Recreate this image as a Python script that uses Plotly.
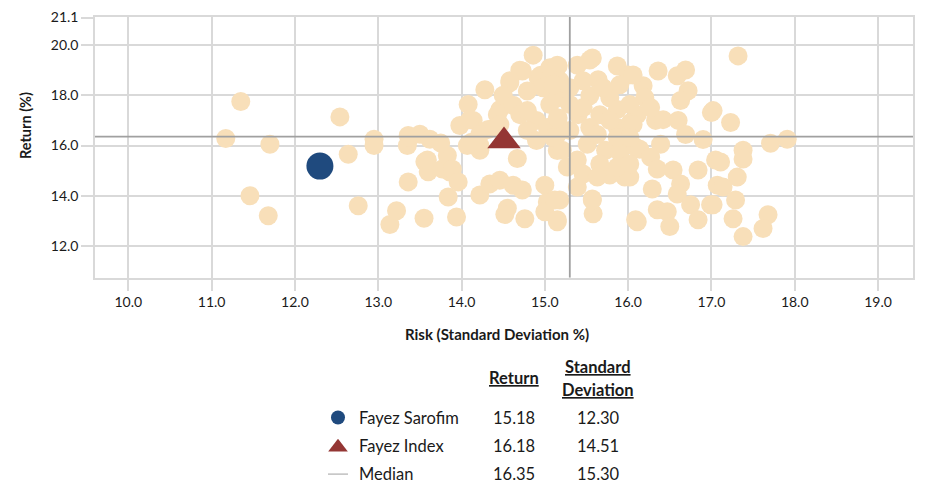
import plotly.graph_objects as go

# ---------------- data ----------------
peer_sd = [
    11.17, 11.35, 11.70, 11.46, 11.68, 12.54, 12.64, 12.76, 12.95, 12.95,
    13.14, 13.22, 13.36, 13.36, 13.35, 13.38, 13.50, 13.55, 13.62, 13.56,
    13.60, 13.59, 13.77, 13.86, 13.83, 13.89, 13.96, 13.84, 13.94, 13.98,
    14.08, 14.14, 14.12, 14.22, 14.28, 14.22, 14.34, 14.46, 14.62, 14.73,
    14.55, 14.52, 14.76, 14.67, 14.40, 14.46, 14.58, 14.70, 14.86, 15.00,
    15.03, 15.00, 15.18, 15.15, 15.39, 15.57, 15.58, 15.16, 15.54, 14.92,
    15.04, 14.73, 14.10, 14.32, 14.22, 14.14, 14.58, 14.50, 14.62, 14.79,
    14.95, 15.06, 14.90, 14.79, 14.90, 15.03, 14.70, 14.43, 15.06, 14.98,
    15.15, 15.15, 15.39, 15.57, 15.87, 16.00, 15.64, 15.18, 15.15, 15.54,
    15.78, 15.87, 15.66, 15.40, 15.16, 15.54, 15.87, 16.03, 15.51, 15.73,
    15.90, 15.21, 15.39, 15.27, 15.46, 15.78, 15.96, 15.12, 15.57, 15.15,
    16.09, 16.09, 16.36, 16.59, 16.69, 16.72, 16.63, 16.18, 16.20, 16.06,
    17.00, 16.11, 16.33, 16.42, 16.60, 16.69, 16.90, 16.39, 16.14, 16.27,
    16.35, 16.54, 16.84, 17.05, 16.29, 16.63, 16.59, 16.75, 16.99, 16.35,
    16.47, 16.50, 16.84, 16.11, 16.02, 17.07, 17.32, 17.02, 17.23, 17.38,
    17.38, 17.11, 17.71, 17.91, 17.31, 17.14, 17.29, 17.02, 17.26, 17.68,
    17.62, 17.38, 15.30, 15.46, 15.70, 15.90, 15.30, 15.46, 15.78, 15.30,
    15.63, 15.87, 15.15, 15.66, 15.87, 15.63, 16.02, 15.10, 15.15, 14.79,
    15.10, 14.46, 14.22, 16.02, 16.06, 16.27, 16.02, 14.07, 13.75,
]
peer_ret = [
    16.28, 17.75, 16.05, 14.00, 13.20, 17.14, 15.65, 13.60, 16.25, 16.00,
    12.85, 13.40, 14.55, 16.40, 16.00, 16.32, 16.45, 13.10, 16.25, 15.35,
    14.95, 15.42, 15.06, 14.94, 15.60, 15.05, 14.55, 13.95, 13.15, 16.80,
    17.63, 17.00, 16.13, 16.00, 18.22, 14.03, 14.47, 14.62, 14.42, 14.23,
    13.50, 13.25, 13.08, 15.48, 16.72, 17.43, 18.50, 19.00, 19.60, 14.42,
    13.75, 13.36, 13.83, 12.96, 14.35, 13.87, 13.28, 19.17, 19.41, 18.70,
    18.90, 18.97, 17.03, 16.64, 15.81, 16.05, 18.58, 18.00, 17.60, 18.17,
    18.80, 19.10, 17.00, 16.60, 16.20, 16.72, 17.23, 17.23, 17.63, 18.30,
    15.80, 19.20, 19.20, 19.49, 19.17, 18.81, 18.62, 18.58, 17.90, 17.98,
    17.90, 17.43, 17.23, 17.23, 17.10, 16.72, 16.72, 16.92, 16.05, 15.81,
    15.73, 15.81, 15.42, 15.14, 14.86, 14.82, 14.74, 13.83, 13.83, 13.04,
    13.04, 15.93, 18.97, 18.78, 19.01, 18.18, 17.79, 18.38, 17.90, 18.81,
    17.31, 17.23, 17.00, 17.03, 17.00, 16.44, 16.24, 16.05, 15.85, 15.53,
    15.06, 15.02, 15.02, 15.42, 14.27, 14.47, 14.07, 13.64, 13.64, 13.44,
    13.36, 12.77, 13.04, 12.96, 14.74, 14.42, 19.57, 17.39, 16.92, 15.81,
    15.46, 15.34, 16.09, 16.25, 14.74, 14.35, 13.83, 13.64, 13.08, 13.24,
    12.69, 12.37, 18.30, 18.58, 18.30, 18.42, 17.63, 17.51, 17.00, 16.60,
    16.44, 16.32, 16.44, 15.26, 15.14, 14.74, 15.26, 18.42, 17.10, 17.39,
    16.32, 16.84, 16.44, 17.63, 16.84, 17.51, 16.32, 16.00, 16.10,
]

fund_name = "Fayez Sarofim"
fund_return = 15.18
fund_sd = 12.30

index_name = "Fayez Index"
index_return = 16.18
index_sd = 14.51

median_name = "Median"
median_return = 16.35
median_sd = 15.30

x_ticks = [10, 11, 12, 13, 14, 15, 16, 17, 18, 19]
y_ticks = [12, 14, 16, 18, 20, 21.1]
x_range = [9.6, 19.42]
y_range = [10.73, 21.12]

# ---------------- styles ----------------
FONT = "Lato"
PEER = "#F8DFB9"
BLUE = "#1F4A7E"
RED = "#943634"
GRID = "#D9D9D9"
MED = "#A0A0A0"
TXT = "#1A1A1A"

OFF = 8                      # page body margin
RW, RH = 932, 483            # reference picture size
W, H = RW - OFF, RH - OFF    # figure size
P_LEFT, P_RIGHT, P_TOP, P_BOTTOM = 95, 913, 13, 276   # plot frame in ref pixels
ML = P_LEFT - OFF
MT = P_TOP - OFF
MR = RW - P_RIGHT
MB = 0
PW = W - ML - MR
PH = H - MT - MB
y_dom0 = (RH - P_BOTTOM) / PH


def px_x(p):
    return (p - P_LEFT) / PW


def px_y(p):
    return (RH - p) / PH


fig = go.Figure()

fig.add_trace(go.Scatter(
    x=peer_sd, y=peer_ret, mode="markers",
    marker=dict(size=19, color=PEER, line=dict(width=0)),
    showlegend=False, hoverinfo="skip"))

fig.add_trace(go.Scatter(
    x=[median_sd, median_sd], y=y_range, mode="lines",
    line=dict(color=MED, width=1.8), showlegend=False, hoverinfo="skip"))
fig.add_trace(go.Scatter(
    x=x_range, y=[median_return, median_return], mode="lines",
    line=dict(color=MED, width=1.8), showlegend=False, hoverinfo="skip"))

fig.add_trace(go.Scatter(
    x=[fund_sd], y=[fund_return], mode="markers",
    marker=dict(size=27, color=BLUE, line=dict(width=0)),
    showlegend=False, name=fund_name))
fig.add_trace(go.Scatter(
    x=[index_sd], y=[index_return], mode="markers",
    marker=dict(size=29, symbol="triangle-up", color=RED, line=dict(width=0)),
    showlegend=False, name=index_name))

# ---------------- legend table (aux axes in reference pixels) ----------------
Y2_DOM = 0.42
y2_top_px = RH - Y2_DOM * PH
mark_x = 338
row_y = [417, 446, 474]
fig.add_trace(go.Scatter(
    x=[mark_x], y=[row_y[0]], xaxis="x2", yaxis="y2", mode="markers",
    marker=dict(size=14, color=BLUE), showlegend=False, hoverinfo="skip"))
fig.add_trace(go.Scatter(
    x=[mark_x], y=[row_y[1] + 1], xaxis="x2", yaxis="y2", mode="markers",
    marker=dict(size=17, symbol="triangle-up", color=RED), showlegend=False, hoverinfo="skip"))
fig.add_trace(go.Scatter(
    x=[mark_x - 10, mark_x + 10], y=[row_y[2], row_y[2]], xaxis="x2", yaxis="y2",
    mode="lines", line=dict(color=MED, width=1), showlegend=False, hoverinfo="skip"))

LF = dict(family=FONT, size=16.5, color=TXT)
annotations = []
names = [fund_name, index_name, median_name]
rets = [fund_return, index_return, median_return]
sds = [fund_sd, index_sd, median_sd]
for i in range(3):
    annotations.append(dict(x=357, y=row_y[i], xref="x2", yref="y2", text=names[i],
                            showarrow=False, xanchor="left", yanchor="middle", font=LF))
    annotations.append(dict(x=514, y=row_y[i], xref="x2", yref="y2", text=f"{rets[i]:.2f}",
                            showarrow=False, xanchor="center", yanchor="middle", font=LF))
    annotations.append(dict(x=598, y=row_y[i], xref="x2", yref="y2", text=f"{sds[i]:.2f}",
                            showarrow=False, xanchor="center", yanchor="middle", font=LF))
U = '<span style="text-decoration:underline"><b>{}</b></span>'
annotations.append(dict(x=514, y=377, xref="x2", yref="y2", text=U.format("Return"),
                        showarrow=False, xanchor="center", yanchor="middle", font=LF))
annotations.append(dict(x=598, y=366, xref="x2", yref="y2", text=U.format("Standard"),
                        showarrow=False, xanchor="center", yanchor="middle", font=LF))
annotations.append(dict(x=598, y=389, xref="x2", yref="y2", text=U.format("Deviation"),
                        showarrow=False, xanchor="center", yanchor="middle", font=LF))

# axis titles
annotations.append(dict(x=px_x(497), y=px_y(333), xref="paper", yref="paper",
                        text="<b>Risk (Standard Deviation %)</b>", showarrow=False,
                        xanchor="center", yanchor="middle",
                        font=dict(family=FONT, size=15, color=TXT)))
annotations.append(dict(x=px_x(25), y=px_y(123), xref="paper", yref="paper",
                        text="<b>Return (%)</b>", showarrow=False, textangle=-90,
                        xanchor="center", yanchor="middle",
                        font=dict(family=FONT, size=14.5, color=TXT)))

fig.update_layout(
    width=W, height=H,
    margin=dict(l=ML, r=MR, t=MT, b=MB, pad=0),
    paper_bgcolor="white", plot_bgcolor="white",
    showlegend=False,
    annotations=annotations,
    xaxis=dict(range=x_range, domain=[0, 1], tickvals=x_ticks,
               ticktext=[f"{v:.1f}" for v in x_ticks],
               showgrid=True, gridcolor=GRID, gridwidth=1.5,
               showline=True, linecolor=GRID, linewidth=1.5, mirror=True,
               ticks="outside", ticklen=11, tickcolor=GRID, tickwidth=1.5,
               tickfont=dict(family=FONT, size=14, color=TXT),
               ticklabeloverflow="allow",
               zeroline=False, fixedrange=True),
    yaxis=dict(range=y_range, domain=[y_dom0, 1], tickvals=y_ticks,
               ticktext=[f"{v:.1f}" for v in y_ticks],
               showgrid=True, gridcolor=GRID, gridwidth=1.5,
               showline=True, linecolor=GRID, linewidth=1.5, mirror=True,
               ticks="outside", ticklen=12, tickcolor=GRID, tickwidth=1.5,
               tickfont=dict(family=FONT, size=14, color=TXT),
               ticklabeloverflow="allow",
               zeroline=False, fixedrange=True),
    xaxis2=dict(range=[P_LEFT, P_RIGHT], domain=[0, 1], visible=False, anchor="y2",
                fixedrange=True),
    yaxis2=dict(range=[RH, y2_top_px], domain=[0, Y2_DOM], visible=False, anchor="x2",
                fixedrange=True),
)

fig.write_html("out.html")
